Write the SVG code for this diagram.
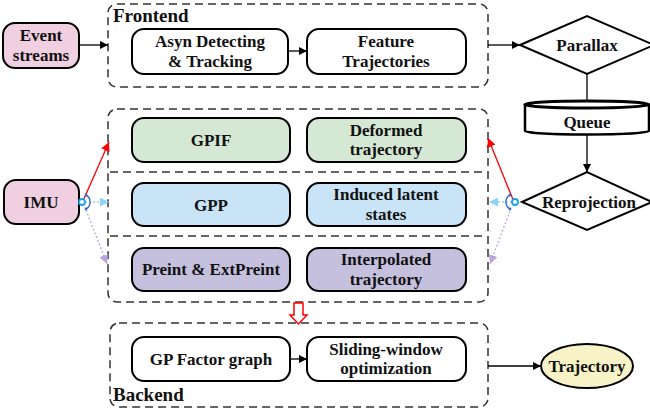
<svg xmlns="http://www.w3.org/2000/svg" width="650" height="415" viewBox="0 0 650 415">
  <defs>
    <marker id="arrow" viewBox="0 0 10 10" refX="10" refY="5" markerWidth="8" markerHeight="8" markerUnits="userSpaceOnUse" orient="auto">
      <path d="M0,0 L10,5 L0,10 Z" fill="#000"/>
    </marker>
    <marker id="arrowRed" viewBox="0 0 10 10" refX="10" refY="5" markerWidth="9" markerHeight="9" markerUnits="userSpaceOnUse" orient="auto">
      <path d="M0,0 L10,5 L0,10 Z" fill="#ff0000"/>
    </marker>
    <marker id="arrowCyan" viewBox="0 0 10 10" refX="10" refY="5" markerWidth="9" markerHeight="9" markerUnits="userSpaceOnUse" orient="auto">
      <path d="M0,0 L10,5 L0,10 Z" fill="#8fd3f5"/>
    </marker>
    <marker id="arrowPurple" viewBox="0 0 10 10" refX="10" refY="5" markerWidth="9" markerHeight="9" markerUnits="userSpaceOnUse" orient="auto">
      <path d="M0,0 L10,5 L0,10 Z" fill="#b8a6dc"/>
    </marker>
    <style>
      text { font-weight: bold; font-size: 17px; fill: #111; text-anchor: middle; }
      .title { font-size: 19px; text-anchor: start; }
      .node { stroke: #000; stroke-width: 2; }
      .plain { fill: #fff; }
      .pink { fill: #efcfe0; }
      .green { fill: #d5e8d4; }
      .blue { fill: #c8e4f6; }
      .purple { fill: #c5c0de; }
      .yellow { fill: #f8f3c6; }
      .group { fill: none; stroke: #333; stroke-width: 1.5; stroke-dasharray: 8 5; }
      .divider { fill: none; stroke: #333; stroke-width: 1.3; stroke-dasharray: 8 5; }
      .link { fill: none; stroke: #000; stroke-width: 1.3; }
      .red { stroke: #ff0000; stroke-width: 1.3; fill: none; }
      .cyan { stroke: #8fd3f5; stroke-width: 1.3; stroke-dasharray: 2 2; fill: none; }
      .lilac { stroke: #b8a6dc; stroke-width: 1.3; stroke-dasharray: 2 2; fill: none; }
      .pivot { fill: #fff; stroke: #1ea0e6; stroke-width: 1.8; }
      .rot { fill: none; stroke: #3a6cd0; stroke-width: 1.5; }
    </style>
  </defs>

  <g font-family="'Liberation Serif', 'Times New Roman', serif">
  <!-- dashed stage containers -->
  <g id="frontend">
    <rect class="group" x="108" y="4" width="380" height="83" rx="9"/>
    <text class="title" x="113" y="22">Frontend</text>
  </g>
  <g id="estimators">
    <rect class="group" x="108" y="109" width="380" height="193" rx="9"/>
    <line class="divider" x1="110" y1="172" x2="486" y2="172"/>
    <line class="divider" x1="110" y1="236" x2="486" y2="236"/>
  </g>
  <g id="backend">
    <rect class="group" x="110" y="323" width="378" height="84" rx="9"/>
    <text class="title" x="113" y="401">Backend</text>
  </g>

  <!-- nodes -->
  <g id="event-streams">
    <rect class="node pink" x="3" y="23" width="76" height="45" rx="12"/>
    <text x="41" y="41">Event</text>
    <text x="41" y="61">streams</text>
  </g>
  <g id="asyn-detecting">
    <rect class="node plain" x="132" y="29" width="156" height="45" rx="12"/>
    <text x="210" y="47">Asyn Detecting</text>
    <text x="210" y="67">&amp; Tracking</text>
  </g>
  <g id="feature-trajectories">
    <rect class="node plain" x="307" y="29" width="159" height="45" rx="12"/>
    <text x="386" y="47">Feature</text>
    <text x="386" y="67">Trajectories</text>
  </g>
  <g id="parallax">
    <polygon class="node plain" points="520,45 587,16 654,45 587,74"/>
    <text x="587" y="51">Parallax</text>
  </g>
  <g id="queue">
    <path class="plain" d="M525,105 L525,131 A62,3.5 0 0 0 649,131 L649,105 Z" stroke="#000" stroke-width="2.5"/>
    <ellipse cx="587" cy="104.5" rx="62" ry="3.5" fill="#fff" stroke="#000" stroke-width="3"/>
    <text x="587" y="128">Queue</text>
  </g>
  <g id="reprojection">
    <polygon class="node plain" points="522,202 587,172 652,202 587,230"/>
    <text x="589" y="208">Reprojection</text>
  </g>
  <g id="imu">
    <rect class="node pink" x="4" y="180" width="75" height="44" rx="12"/>
    <text x="41" y="208">IMU</text>
  </g>
  <g id="gpif">
    <rect class="node green" x="132" y="118" width="158" height="44" rx="12"/>
    <text x="211" y="146">GPIF</text>
  </g>
  <g id="deformed-trajectory">
    <rect class="node green" x="307" y="118" width="159" height="44" rx="12"/>
    <text x="386" y="136">Deformed</text>
    <text x="386" y="155">trajectory</text>
  </g>
  <g id="gpp">
    <rect class="node blue" x="132" y="183" width="158" height="43" rx="12"/>
    <text x="211" y="211">GPP</text>
  </g>
  <g id="induced-latent-states">
    <rect class="node blue" x="307" y="183" width="159" height="43" rx="12"/>
    <text x="386" y="200">Induced latent</text>
    <text x="386" y="220">states</text>
  </g>
  <g id="preint">
    <rect class="node purple" x="132" y="248" width="158" height="43" rx="12"/>
    <text x="211" y="275">Preint &amp; ExtPreint</text>
  </g>
  <g id="interpolated-trajectory">
    <rect class="node purple" x="307" y="248" width="159" height="43" rx="12"/>
    <text x="386" y="265">Interpolated</text>
    <text x="386" y="285">trajectory</text>
  </g>
  <g id="gp-factor-graph">
    <rect class="node plain" x="132" y="337" width="158" height="44" rx="12"/>
    <text x="211" y="365">GP Factor graph</text>
  </g>
  <g id="sliding-window">
    <rect class="node plain" x="307" y="337" width="159" height="44" rx="12"/>
    <text x="386" y="355">Sliding-window</text>
    <text x="386" y="374">optimization</text>
  </g>
  <g id="trajectory">
    <ellipse class="node yellow" cx="587" cy="366" rx="46" ry="22"/>
    <text x="587" y="372">Trajectory</text>
  </g>
  </g>

  <!-- connectors -->
  <g id="connectors">
    <line class="link" x1="79" y1="45" x2="108" y2="45" marker-end="url(#arrow)"/>
    <line class="link" x1="288" y1="51" x2="307" y2="51" marker-end="url(#arrow)"/>
    <line class="link" x1="488" y1="45" x2="520" y2="45" marker-end="url(#arrow)"/>
    <line class="link" x1="587" y1="74" x2="587" y2="101"/>
    <line class="link" x1="587" y1="135" x2="587" y2="172" marker-end="url(#arrow)"/>
    <line class="link" x1="290" y1="359" x2="307" y2="359" marker-end="url(#arrow)"/>
    <line class="link" x1="488" y1="366" x2="541" y2="366" marker-end="url(#arrow)"/>

    <!-- IMU fan-out -->
    <line class="red" x1="83" y1="201" x2="109" y2="142" marker-end="url(#arrowRed)"/>
    <line class="cyan" x1="85" y1="202" x2="109" y2="202" marker-end="url(#arrowCyan)"/>
    <line class="lilac" x1="86" y1="210" x2="107" y2="264" marker-end="url(#arrowPurple)"/>
    <path class="rot" d="M86,195 A8,8 0 0 1 86,209"/>
    <circle cx="86" cy="195" r="1.4" fill="#3a6cd0"/>
    <circle cx="86" cy="209" r="1.4" fill="#3a6cd0"/>
    <circle class="pivot" cx="82" cy="202" r="3"/>

    <!-- Reprojection fan-out -->
    <line class="red" x1="514" y1="202" x2="488" y2="138" marker-end="url(#arrowRed)"/>
    <line class="cyan" x1="512" y1="202" x2="489" y2="202" marker-end="url(#arrowCyan)"/>
    <line class="lilac" x1="510" y1="211" x2="490" y2="264" marker-end="url(#arrowPurple)"/>
    <path class="rot" d="M510,195 A8,8 0 0 0 510,209"/>
    <circle cx="510" cy="195" r="1.4" fill="#3a6cd0"/>
    <circle cx="510" cy="209" r="1.4" fill="#3a6cd0"/>
    <circle class="pivot" cx="515" cy="202" r="3"/>

    <!-- hand-off to backend -->
    <polygon points="294,303 303,303 303,315 307,315 298.5,324 290,315 294,315" fill="#fff" stroke="#ff0000" stroke-width="1.5"/>
  </g>
</svg>
